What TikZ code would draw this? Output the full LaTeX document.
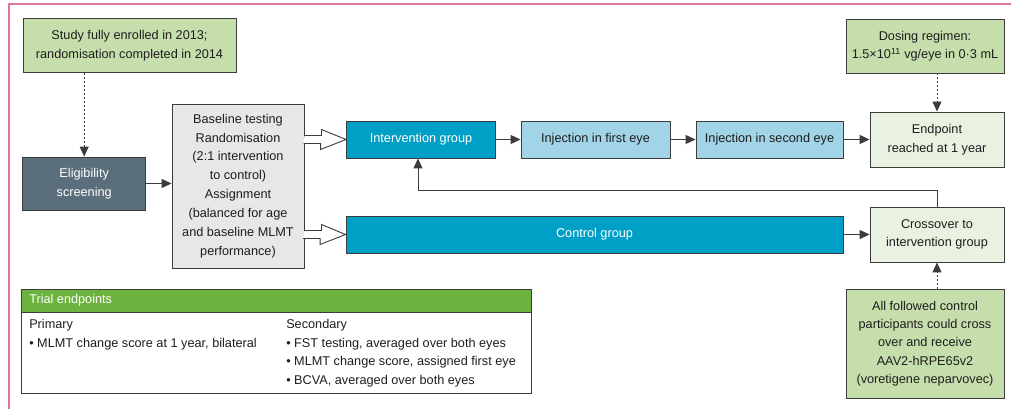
\documentclass[tikz,border=0pt]{standalone}
\usepackage{fontspec}
\setmainfont{Liberation Sans}
\usetikzlibrary{arrows.meta,calc}
\definecolor{gl}{RGB}{198,222,172}
\definecolor{pg}{RGB}{233,241,224}
\definecolor{slate}{RGB}{91,110,124}
\definecolor{lgray}{RGB}{231,231,231}
\definecolor{teal}{RGB}{0,160,198}
\definecolor{lblue}{RGB}{160,212,230}
\definecolor{hgreen}{RGB}{108,178,62}
\definecolor{pinkc}{RGB}{222,120,150}
\definecolor{bord}{RGB}{60,60,60}
\definecolor{txt}{RGB}{30,30,30}
\begin{document}
\begin{tikzpicture}[x=1pt,y=-1pt,
  box/.style={draw=bord, line width=0.9pt, align=center, inner sep=0pt, text=txt,
    font=\fontsize{12.7}{18.5}\selectfont},
  arr/.style={draw=bord, line width=1pt, -{Triangle[length=10pt,width=9pt]}},
  dots/.style={arr, dash pattern=on 2pt off 2pt},
  hollow/.style={draw=bord, line width=0.9pt, fill=white, line join=miter},
  plain/.style={inner sep=0pt, text=txt, align=left, font=\fontsize{12.7}{18.5}\selectfont}]
\useasboundingbox (0,0) rectangle (1011,409);
\fill[white] (0,0) rectangle (1011,409);
\draw[pinkc, line width=1.3pt] (9,409) -- (9,4) -- (1011,4);

\node[box, fill=gl, minimum width=213, minimum height=54] (study) at (129.5,45.5)
  {Study fully enrolled in 2013;\\randomisation completed in 2014};
\node[box, fill=slate, text=white, minimum width=123, minimum height=53] (elig) at (84.2,183.5)
  {Eligibility\\screening};
\node[box, fill=lgray, minimum width=132, minimum height=164,
  font=\fontsize{12.7}{18.9}\selectfont] (base) at (238,186)
  {Baseline testing\\Randomisation\\(2:1 intervention\\to control)\\Assignment\\(balanced for age\\and baseline MLMT\\performance)};
\node[box, fill=teal, text=white, minimum width=149, minimum height=37] (inter) at (421,139.5)
  {Intervention group};
\node[box, fill=lblue, minimum width=149, minimum height=37] (inj1) at (595.5,139.5)
  {Injection in first eye};
\node[box, fill=lblue, minimum width=147, minimum height=37] (inj2) at (769.5,139.5)
  {Injection in second eye};
\node[box, fill=pg, minimum width=134, minimum height=55] (endp) at (937,139.5)
  {Endpoint\\reached at 1 year};
\node[box, fill=gl, minimum width=158, minimum height=54] (dose) at (925,46)
  {Dosing regimen:\\1.5×10\textsuperscript{11} vg/eye in 0·3 mL};
\node[box, fill=teal, text=white, minimum width=497, minimum height=37] (control) at (594.5,234.5)
  {Control group};
\node[box, fill=pg, minimum width=134, minimum height=55] (cross) at (937,234.5)
  {Crossover to\\intervention group};
\node[box, fill=gl, minimum width=158, minimum height=109,
  font=\fontsize{12.7}{18.3}\selectfont] (foll) at (925,343.5)
  {All followed control\\participants could cross\\over and receive\\AAV2-hRPE65v2\\(voretigene neparvovec)};

% trial endpoints panel
\node[draw=bord, line width=0.9pt, fill=white, minimum width=510, minimum height=104, inner sep=0pt] (trial) at (276.5,341) {};
\node[draw=bord, line width=0.9pt, fill=hgreen, minimum width=510, minimum height=23, inner sep=0pt, anchor=north] (head) at (trial.north) {};
\node[plain, text=white, anchor=west] (ttl) at ($(trial.north west)+(8,12)$) {Trial endpoints};
\node[plain, anchor=north west] (prim) at ($(trial.north west)+(8,31)$)
  {Primary\\• MLMT change score at 1 year, bilateral};
\node[plain, anchor=north west] (sec) at ($(trial.north west)+(265,31)$)
  {Secondary\\• FST testing, averaged over both eyes\\• MLMT change score, assigned first eye\\• BCVA, averaged over both eyes};

% connectors
\draw[dots] (study.south -| elig.north) -- (elig.north);
\draw[arr] (elig.east) -- (elig.east -| base.west);
\draw[hollow] (base.east |- inter.west) ++(0,-4) -- ++(17,0) -- ++(0,-6) -- (inter.west)
  -- ++(-25.5,10) -- ++(0,-6) -- ++(-17,0);
\draw[hollow] (base.east |- control.west) ++(0,-4) -- ++(17,0) -- ++(0,-6) -- (control.west)
  -- ++(-25.5,10) -- ++(0,-6) -- ++(-17,0);
\draw[arr] (inter) -- (inj1);
\draw[arr] (inj1) -- (inj2);
\draw[arr] (inj2) -- (endp);
\draw[arr] (control) -- (cross);
\draw[arr] (cross.north) -- ++(0,-16) -| ([xshift=-3pt]inter.south);
\draw[dots] (dose.south -| endp.north) -- (endp.north);
\draw[dots] (foll.north -| cross.south) -- (cross.south);
\end{tikzpicture}
\end{document}
